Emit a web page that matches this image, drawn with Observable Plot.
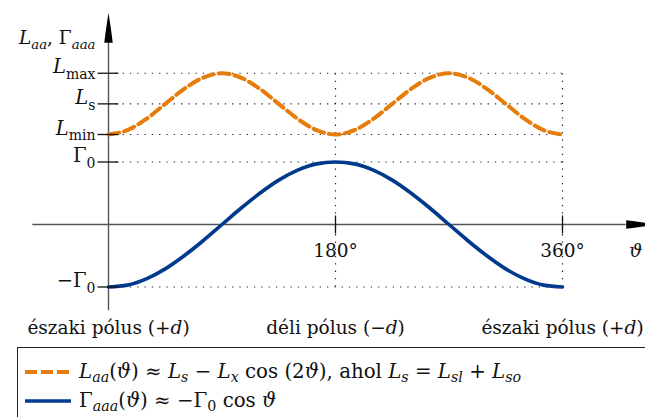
<!DOCTYPE html>
<html>
<head>
<meta charset="utf-8">
<script src="https://cdn.jsdelivr.net/npm/d3@7"></script>
<script src="https://cdn.jsdelivr.net/npm/@observablehq/plot@0.6"></script>
<style>
  body { margin: 0; background: #fff; }
  #fig { position: relative; width: 645px; height: 417px; overflow: hidden; font-family: "DejaVu Serif", serif; color: #111; }
  #fig > svg { position: absolute; left: 0; top: 0; overflow: visible; }
  #legend { position: absolute; left: 17px; top: 347px; width: 720px; height: 120px; border: 1.3px solid #222; box-sizing: border-box; }
  .row { position: absolute; left: 7px; display: flex; align-items: center; white-space: nowrap; font-size: 19.8px; line-height: 1; }
  .row svg { display: block; margin-right: 8px; flex: none; }
  .row sub { font-size: 0.72em; vertical-align: -0.3em; line-height: 0; }
</style>
</head>
<body>
<div id="fig"></div>
<script>
// Rotation angle ϑ in degrees, sampled every 15°
const angles = [0, 15, 30, 45, 60, 75, 90, 105, 120, 135, 150, 165, 180,
                195, 210, 225, 240, 255, 270, 285, 300, 315, 330, 345, 360];
// Self inductance L_aa(ϑ) (same units as Γ0)
const inductance = [1.44, 1.51, 1.69, 1.93, 2.17, 2.35, 2.42, 2.35, 2.17, 1.93, 1.69, 1.51, 1.44,
                    1.51, 1.69, 1.93, 2.17, 2.35, 2.42, 2.35, 2.17, 1.93, 1.69, 1.51, 1.44];
// Flux linkage Γ_aaa(ϑ), in units of Γ0
const fluxLinkage = [-1, -0.97, -0.87, -0.71, -0.5, -0.26, 0, 0.26, 0.5, 0.71, 0.87, 0.97, 1,
                     0.97, 0.87, 0.71, 0.5, 0.26, 0, -0.26, -0.5, -0.71, -0.87, -0.97, -1];

// Vertical axis levels and their labels (*…* italic, _{…} subscript)
const yLevels = [2.42, 1.93, 1.44, 1, -1];
const yLabels = ["*L*_{max}", "*L*_{s}", "*L*_{min}", "Γ_{0}", "−Γ_{0}"];
const yTitle = "*L*_{*aa*}, Γ_{*aaa*}";
// Horizontal axis ticks
const xTicks = [180, 360];
const xLabels = ["180°", "360°"];
const xTitle = "*ϑ*";
// Rotor position names
const poleAngles = [0, 180, 360];
const poleLabels = ["északi pólus (+*d*)", "déli pólus (−*d*)", "északi pólus (+*d*)"];

// Axis extents (data units)
const xAxisStart = -60, xAxisEnd = 410.5;
const yAxisStart = -1.38, yAxisEnd = 2.91;

const orange = "#e67c0a";
const blue = "#003a8c";

const curve = angles.map((a, i) => ({a, L: inductance[i], G: fluxLinkage[i]}));

// Filled, slender arrowheads whose base sits on the anchor point
const arrowUp = {draw(ctx) {
  ctx.moveTo(0, -30);
  ctx.quadraticCurveTo(3.0, -11, 4.2, 0);
  ctx.lineTo(-4.2, 0);
  ctx.quadraticCurveTo(-3.0, -11, 0, -30);
  ctx.closePath();
}};
const arrowRight = {draw(ctx) {
  ctx.moveTo(30, 0);
  ctx.quadraticCurveTo(11, 3.0, 0, 4.2);
  ctx.lineTo(0, -4.2);
  ctx.quadraticCurveTo(11, -3.0, 30, 0);
  ctx.closePath();
}};
const tickH = {draw(ctx) { ctx.moveTo(-11, 0); ctx.lineTo(10, 0); }};
const tickV = {draw(ctx) { ctx.moveTo(0, -9); ctx.lineTo(0, 9); }};

const dotted = {stroke: "#222", strokeWidth: 1.2, strokeDasharray: "1.3,6"};
const fs = 18.5;
const fsY = 19.5;

const chart = Plot.plot({
  width: 645,
  height: 340,
  x: {domain: [0, 360], range: [108, 562], axis: null},
  y: {domain: [-1, 1], range: [286.5, 161.5], axis: null},
  style: {fontFamily: "'DejaVu Serif', serif", background: "transparent", overflow: "visible", color: "#111"},
  marks: [
    // dotted guide lines
    Plot.ruleY(yLevels, {x1: 0, x2: 360, ...dotted}),
    Plot.ruleX(xTicks, {y1: -1, y2: yLevels[0], ...dotted}),
    // axes
    Plot.ruleY([0], {x1: xAxisStart, x2: xAxisEnd, stroke: "#555", strokeWidth: 1.4}),
    Plot.ruleX([0], {y1: yAxisStart, y2: yAxisEnd, stroke: "#555", strokeWidth: 1.4}),
    // curves
    Plot.line(curve, {x: "a", y: "L", stroke: orange, strokeWidth: 4, strokeDasharray: "11,5", curve: "monotone-x"}),
    Plot.line(curve, {x: "a", y: "G", stroke: blue, strokeWidth: 3.6, curve: "monotone-x"}),
    // ticks
    Plot.dot(yLevels, {x: 0, y: d => d, symbol: tickH, fill: "none", stroke: "#111", strokeWidth: 1.3}),
    Plot.dot(xTicks, {x: d => d, y: 0, symbol: tickV, fill: "none", stroke: "#111", strokeWidth: 1.3}),
    // arrowheads
    Plot.dot([0], {x: 0, y: yAxisEnd, symbol: arrowUp, fill: "#000", stroke: "none"}),
    Plot.dot([0], {x: xAxisEnd, y: 0, symbol: arrowRight, fill: "#000", stroke: "none"}),
    // labels
    Plot.text(yLevels, {x: 0, y: d => d, text: (d, i) => yLabels[i], dx: -13, textAnchor: "end", lineAnchor: "bottom", fontSize: fsY, className: "rich"}),
    Plot.text([yTitle], {x: 0, y: yAxisEnd, text: d => d, dx: -13, dy: 1, textAnchor: "end", lineAnchor: "bottom", fontSize: fs, className: "rich"}),
    Plot.text(xTicks, {x: d => d, y: 0, text: (d, i) => xLabels[i], dy: 32, textAnchor: "middle", lineAnchor: "bottom", fontSize: fs}),
    Plot.text([xTitle], {x: xAxisEnd, y: 0, text: d => d, dx: 3, dy: 32, textAnchor: "start", lineAnchor: "bottom", fontSize: fs, className: "rich"}),
    Plot.text(poleAngles, {x: d => d, y: 0, text: (d, i) => poleLabels[i], dy: 109, textAnchor: "middle", lineAnchor: "bottom", fontSize: fs, className: "rich"})
  ]
});

// Turn the small markup in label strings into italic / subscript tspans
function parseMarkup(s) {
  const out = [];
  let buf = "", italic = false, sub = false;
  const flush = () => { if (buf) { out.push({t: buf, italic, sub}); buf = ""; } };
  for (let i = 0; i < s.length; i++) {
    const c = s[i];
    if (c === "*") { flush(); italic = !italic; }
    else if (c === "_" && s[i + 1] === "{") { flush(); sub = true; i++; }
    else if (c === "}" && sub) { flush(); sub = false; }
    else buf += c;
  }
  flush();
  return out;
}
d3.select(chart).selectAll(".rich text").each(function() {
  const el = d3.select(this);
  const size = parseFloat(this.parentNode.getAttribute("font-size")) || fs;
  const parts = parseMarkup(this.textContent);
  el.text(null);
  const shift = 0.3 * size;
  let offset = 0;
  for (const p of parts) {
    const target = p.sub ? shift : 0;
    const ts = el.append("tspan").text(p.t);
    if (target !== offset) ts.attr("dy", target - offset);
    offset = target;
    if (p.italic) ts.attr("font-style", "italic");
    if (p.sub) ts.attr("font-size", (size * 0.72).toFixed(1));
  }
});

const fig = document.getElementById("fig");
fig.appendChild(chart);

// Legend box below the chart
const legend = document.createElement("div");
legend.id = "legend";
const entries = [
  {color: orange, dash: "12,4", width: 4, top: 24,
   html: "<i>L</i><sub><i>aa</i></sub>(<i>ϑ</i>) ≈ <i>L</i><sub><i>s</i></sub> − <i>L</i><sub><i>x</i></sub> cos (2<i>ϑ</i>), ahol <i>L</i><sub><i>s</i></sub> = <i>L</i><sub><i>sl</i></sub> + <i>L</i><sub><i>so</i></sub>"},
  {color: blue, dash: null, width: 3.6, top: 53,
   html: "Γ<sub><i>aaa</i></sub>(<i>ϑ</i>) ≈ −Γ<sub>0</sub> cos <i>ϑ</i>"}
];
for (const e of entries) {
  const row = document.createElement("div");
  row.className = "row";
  row.style.top = (e.top - 10) + "px";
  const sw = d3.create("svg").attr("width", 46).attr("height", 20);
  sw.append("line").attr("x1", 0).attr("x2", 46).attr("y1", 10).attr("y2", 10)
    .attr("stroke", e.color).attr("stroke-width", e.width)
    .attr("stroke-dasharray", e.dash);
  row.appendChild(sw.node());
  const span = document.createElement("span");
  span.innerHTML = e.html;
  row.appendChild(span);
  legend.appendChild(row);
}
fig.appendChild(legend);
</script>
</body>
</html>
